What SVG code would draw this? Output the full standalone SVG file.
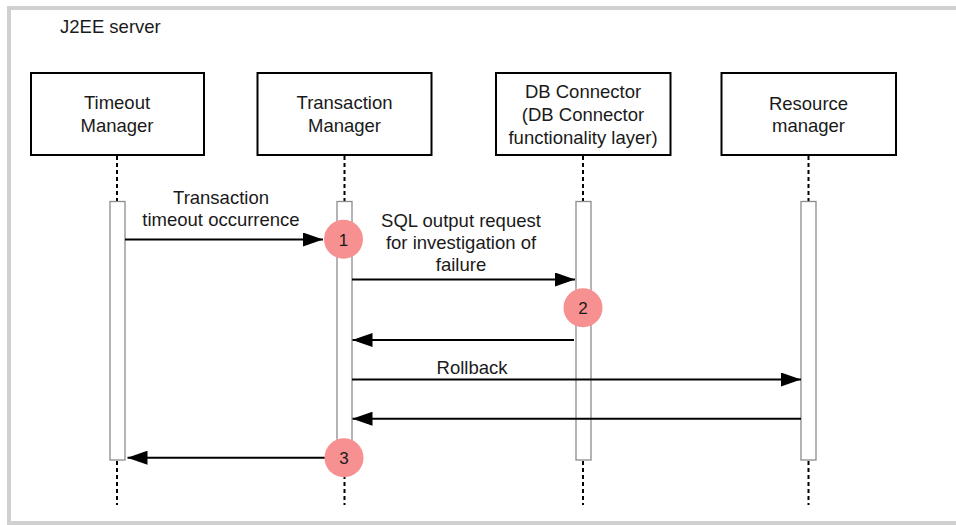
<svg xmlns="http://www.w3.org/2000/svg" width="956" height="525" viewBox="0 0 956 525">
<style>
text{font-family:"Liberation Sans",Arial,sans-serif;font-size:18.5px;fill:#1a1a1a}
.c{text-anchor:middle}
.box{fill:#fff;stroke:#000;stroke-width:2}
.life{stroke:#000;stroke-width:2;stroke-dasharray:4 3}
.act{fill:#fff;stroke:#8c8c8c;stroke-width:1.3}
.msg{stroke:#000;stroke-width:2;fill:none}
.mark{fill:#f79191}
.num{font-size:17px}
</style>
<defs>
<marker id="ah" viewBox="0 0 20 14" refX="20" refY="7" markerWidth="20" markerHeight="14" markerUnits="userSpaceOnUse" orient="auto">
<path d="M0,0 L20,7 L0,14 Z" fill="#000"/>
</marker>
</defs>
<rect x="9" y="8" width="970" height="515" fill="#fff" stroke="#d0d0d0" stroke-width="4"/>
<text x="60" y="33">J2EE server</text>

<g id="timeout-manager">
<rect class="box" x="31" y="73" width="173" height="82"/>
<text class="c" x="117" y="108.5">Timeout</text>
<text class="c" x="117" y="131.5">Manager</text>
<line class="life" x1="117" y1="156" x2="117" y2="201"/>
<line class="life" x1="117" y1="461" x2="117" y2="505"/>
<rect class="act" x="110" y="201.5" width="15" height="258.5"/>
</g>
<g id="transaction-manager">
<rect class="box" x="257.5" y="73" width="174" height="82"/>
<text class="c" x="344.5" y="108.5">Transaction</text>
<text class="c" x="344.5" y="131.5">Manager</text>
<line class="life" x1="344.5" y1="156" x2="344.5" y2="201"/>
<line class="life" x1="344.5" y1="461" x2="344.5" y2="505"/>
<rect class="act" x="337" y="201.5" width="15" height="258.5"/>
</g>
<g id="db-connector">
<rect class="box" x="496" y="73" width="174.5" height="82"/>
<text class="c" x="583" y="98">DB Connector</text>
<text class="c" x="583" y="121">(DB Connector</text>
<text class="c" x="583" y="144">functionality layer)</text>
<line class="life" x1="583" y1="156" x2="583" y2="201"/>
<line class="life" x1="583" y1="461" x2="583" y2="505"/>
<rect class="act" x="576" y="201.5" width="15" height="258.5"/>
</g>
<g id="resource-manager">
<rect class="box" x="721.5" y="73" width="174.5" height="82"/>
<text class="c" x="808.5" y="109.5">Resource</text>
<text class="c" x="808.5" y="131.5">manager</text>
<line class="life" x1="808.5" y1="156" x2="808.5" y2="201"/>
<line class="life" x1="808.5" y1="461" x2="808.5" y2="505"/>
<rect class="act" x="801" y="201.5" width="15" height="258.5"/>
</g>

<g id="connectors">
<line class="msg" x1="125" y1="239.5" x2="323" y2="239.5" marker-end="url(#ah)"/>
<text class="c" x="221" y="204">Transaction</text>
<text class="c" x="221" y="226">timeout occurrence</text>
<line class="msg" x1="352" y1="279.5" x2="575" y2="279.5" marker-end="url(#ah)"/>
<text class="c" x="461" y="226.5">SQL output request</text>
<text class="c" x="461" y="249">for investigation of</text>
<text class="c" x="461" y="271">failure</text>
<line class="msg" x1="574" y1="340" x2="352.5" y2="340" marker-end="url(#ah)"/>
<line class="msg" x1="352" y1="379.5" x2="801" y2="379.5" marker-end="url(#ah)"/>
<text class="c" x="472" y="374">Rollback</text>
<line class="msg" x1="801" y1="418.7" x2="352.5" y2="418.7" marker-end="url(#ah)"/>
<line class="msg" x1="325" y1="457.7" x2="127.5" y2="457.7" marker-end="url(#ah)"/>
</g>

<g id="marker-1">
<circle class="mark" cx="343.5" cy="239.3" r="19.5"/>
<text class="c num" x="343.5" y="245.5">1</text>
</g>
<g id="marker-2">
<circle class="mark" cx="583" cy="307.7" r="19.5"/>
<text class="c num" x="583" y="314">2</text>
</g>
<g id="marker-3">
<circle class="mark" cx="344" cy="457.7" r="19.5"/>
<text class="c num" x="344" y="464">3</text>
</g>
</svg>
